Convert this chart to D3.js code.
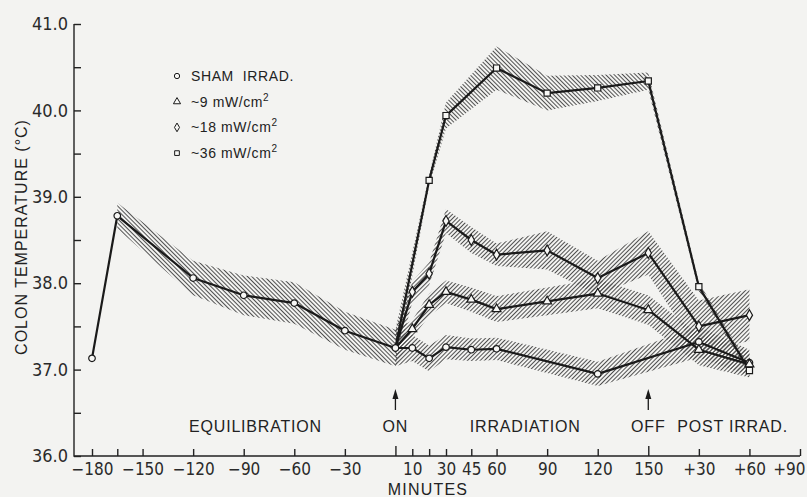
<!DOCTYPE html>
<html>
<head>
<meta charset="utf-8">
<script src="https://cdn.jsdelivr.net/npm/d3@7/dist/d3.min.js"></script>
<style>
    body { margin: 0; background: #f3f3f1; }
    svg { display: block; font-family: "Liberation Sans", Arial, sans-serif; fill: #222; }
    .tick text { font-family: "Liberation Sans Narrow", "DejaVu Sans Condensed", sans-serif; font-size: 17px; fill: #2a2a2a; }
    .tick line, .axis-line { stroke: #222; stroke-width: 1.4; }
</style>
</head>
<body>
<svg width="807" height="497"></svg>
<script>
// equilibration period, shared by all groups
const equilMinutes = [-180, -165, -120, -90, -60, -30, 0];
const equilTemp = [37.13, 38.78, 38.06, 37.86, 37.77, 37.45, 37.25];
const equilSE = [null, 0.15, 0.2, 0.23, 0.24, 0.22, 0.21];

// irradiation + post irradiation (+30 = 180, +60 = 210)
const shamMinutes = [0, 10, 20, 30, 45, 60, 120, 180, 210];
const shamTemp = [37.25, 37.25, 37.13, 37.26, 37.23, 37.24, 36.95, 37.32, 37.08];
const shamSE = [0.21, 0.15, 0.15, 0.14, 0.13, 0.13, 0.14, 0.18, 0.15];

const mw9Minutes = [0, 10, 20, 30, 45, 60, 90, 120, 150, 180, 210];
const mw9Temp = [37.25, 37.47, 37.75, 37.90, 37.81, 37.70, 37.79, 37.88, 37.69, 37.23, 37.06];
const mw9SE = [0.21, 0.1, 0.13, 0.13, 0.14, 0.15, 0.16, 0.17, 0.17, 0.18, 0.15];

const mw18Minutes = [0, 10, 20, 30, 45, 60, 90, 120, 150, 180, 210];
const mw18Temp = [37.25, 37.90, 38.11, 38.72, 38.50, 38.33, 38.38, 38.06, 38.35, 37.50, 37.63];
const mw18SE = [0.21, 0.12, 0.13, 0.14, 0.15, 0.13, 0.22, 0.2, 0.25, 0.3, 0.3];

const mw36Minutes = [0, 20, 30, 60, 90, 120, 150, 180, 210];
const mw36Temp = [37.25, 39.19, 39.94, 40.49, 40.20, 40.26, 40.34, 37.96, 36.99];
const mw36SE = [0.21, 0.06, 0.15, 0.25, 0.2, 0.15, 0.1, 0.05, 0.05];

const xTicks = [-180, -165, -150, -120, -90, -60, -30, 0, 10, 20, 30, 45, 60, 90, 120, 150, 180, 210, 240];
const xTickLabels = ["\u2212180", "", "\u2212150", "\u2212120", "\u221290", "\u221260", "\u221230", "", "10", "", "30", "45", "60", "90", "120", "150", "+30", "+60", "+90"];
const yTicks = [36, 36.5, 37, 37.5, 38, 38.5, 39, 39.5, 40, 40.5, 41];

const legendLabels = ["SHAM  IRRAD.", "~9 mW/cm", "~18 mW/cm", "~36 mW/cm"];
const phaseLabels = ["EQUILIBRATION", "ON", "IRRADIATION", "OFF", "POST IRRAD."];
const phaseMinutes = [-83, 0, 77, 150, 200];
const arrowMinutes = [0, 150];

class ColonChart {
    constructor() {
        this.svg = d3.select("svg");
        this.x = d3.scaleLinear().domain([-180, 240]).range([92, 800]);
        this.y = d3.scaleLinear().domain([36, 41]).range([456, 24]);

        let zip = (ts, vs, ss) => ts.map((t, i) => ({t: t, v: vs[i], se: ss[i]}));
        this.equil = zip(equilMinutes, equilTemp, equilSE);
        this.series = [
            {data: zip(shamMinutes, shamTemp, shamSE), symbol: d3.symbolCircle, size: 34, hatch: "fwd"},
            {data: zip(mw9Minutes, mw9Temp, mw9SE), symbol: d3.symbolTriangle, size: 34, hatch: "fwd"},
            {data: zip(mw18Minutes, mw18Temp, mw18SE), symbol: d3.symbolDiamond, size: 34, hatch: "fwd"},
            {data: zip(mw36Minutes, mw36Temp, mw36SE), symbol: d3.symbolSquare, size: 38, hatch: "back"}
        ];

        this.defs();
        this.drawBands();
        this.drawAxes();
        this.drawLines();
        this.drawLegend();
        this.drawPhases();
    }

    defs() {
        let defs = this.svg.append("defs");
        [["fwd", 45], ["back", -45]].forEach(([id, angle]) => {
            defs.append("pattern")
                .attr("id", "hatch-" + id)
                .attr("patternUnits", "userSpaceOnUse")
                .attr("width", 3).attr("height", 3)
                .attr("patternTransform", "rotate(" + angle + ")")
                .append("line")
                .attr("x1", 0.5).attr("y1", 0).attr("x2", 0.5).attr("y2", 3)
                .style("stroke", "#505050")
                .style("stroke-width", 1);
        });
    }

    drawBands() {
        let area = d3.area()
            .defined(d => d.se != null)
            .x(d => this.x(d.t))
            .y0(d => this.y(d.v - d.se))
            .y1(d => this.y(d.v + d.se));

        let bands = [{data: this.equil, hatch: "back"}].concat(this.series);
        this.svg.append("g")
            .selectAll("path")
            .data(bands)
            .enter().append("path")
            .attr("d", d => area(d.data))
            .style("fill", d => "url(#hatch-" + d.hatch + ")")
            .style("stroke", "none");
    }

    drawAxes() {
        let xAxis = d3.axisBottom(this.x)
            .tickValues(xTicks)
            .tickFormat((d, i) => xTickLabels[i])
            .tickSizeInner(-7)
            .tickSizeOuter(0)
            .tickPadding(7);

        let gx = this.svg.append("g")
            .attr("transform", "translate(0,456)")
            .call(xAxis);
        gx.select(".domain").remove();
        gx.selectAll(".tick line")
            .attr("y2", d => arrowMinutes.includes(d) ? -10 : -7);
        // last label sits right at the page edge
        gx.selectAll(".tick text")
            .filter(d => d === 240)
            .attr("text-anchor", "end")
            .attr("x", 5);

        let yAxis = d3.axisLeft(this.y)
            .tickValues(yTicks)
            .tickFormat(d => Number.isInteger(d) ? d.toFixed(1) : "")
            .tickSizeInner(-7)
            .tickSizeOuter(0)
            .tickPadding(6);

        let gy = this.svg.append("g")
            .attr("transform", "translate(74,0)")
            .call(yAxis);
        gy.select(".domain").remove();
        gy.selectAll(".tick text").style("font-size", "18px");

        this.svg.append("path")
            .attr("class", "axis-line")
            .attr("d", "M74," + this.y(41) + "V456H" + this.x(240))
            .style("fill", "none");

        this.svg.append("text")
            .attr("transform", "translate(27,237) rotate(-90)")
            .attr("text-anchor", "middle")
            .style("font-size", "16px")
            .style("letter-spacing", "1px")
            .text("COLON TEMPERATURE (\u00b0C)");

        this.svg.append("text")
            .attr("x", 428).attr("y", 495)
            .attr("text-anchor", "middle")
            .style("font-size", "16px")
            .style("letter-spacing", "1.2px")
            .text("MINUTES");
    }

    drawLines() {
        let line = d3.line()
            .x(d => this.x(d.t))
            .y(d => this.y(d.v));

        let all = [{data: this.equil}].concat(this.series);
        this.svg.append("g")
            .selectAll("path")
            .data(all)
            .enter().append("path")
            .attr("d", d => line(d.data))
            .style("fill", "none")
            .style("stroke", "#1a1a1a")
            .style("stroke-width", 2.2)
            .style("stroke-linejoin", "round");

        let marks = this.svg.append("g");
        marks.selectAll("path.eq")
            .data(this.equil)
            .enter().append("path")
            .attr("class", "eq")
            .attr("transform", d => "translate(" + this.x(d.t) + "," + this.y(d.v) + ")")
            .attr("d", d3.symbol(d3.symbolCircle, 34));

        this.series.forEach(s => {
            marks.selectAll(null)
                .data(s.data.filter(d => d.t !== 0))
                .enter().append("path")
                .attr("transform", d => "translate(" + this.x(d.t) + "," + this.y(d.v) + ")")
                .attr("d", d3.symbol(s.symbol, s.size));
        });
        marks.selectAll("path")
            .style("fill", "#f7f7f5")
            .style("stroke", "#1a1a1a")
            .style("stroke-width", 1.2);
    }

    drawLegend() {
        let g = this.svg.append("g").attr("transform", "translate(177,76)");
        let rows = g.selectAll("g")
            .data(legendLabels)
            .enter().append("g")
            .attr("transform", (d, i) => "translate(0," + (i * 25.7) + ")");

        rows.append("path")
            .attr("d", (d, i) => d3.symbol(this.series[i].symbol, 22)())
            .style("fill", "#f7f7f5")
            .style("stroke", "#1a1a1a")
            .style("stroke-width", 1);

        let txt = rows.append("text")
            .attr("x", 14).attr("y", 5)
            .style("font-size", "14px")
            .style("letter-spacing", "0.6px")
            .style("white-space", "pre")
            .text(d => d);
        txt.filter((d, i) => i > 0)
            .append("tspan")
            .attr("dy", -6)
            .style("font-size", "10px")
            .text("2");
    }

    drawPhases() {
        this.svg.append("g")
            .selectAll("text")
            .data(phaseLabels)
            .enter().append("text")
            .attr("x", (d, i) => this.x(phaseMinutes[i]))
            .attr("y", 432)
            .attr("text-anchor", "middle")
            .style("font-size", "16px")
            .style("letter-spacing", "0.8px")
            .text(d => d);

        let arrows = this.svg.append("g")
            .selectAll("g")
            .data(arrowMinutes)
            .enter().append("g")
            .attr("transform", d => "translate(" + this.x(d) + ",0)");
        arrows.append("path")
            .attr("d", "M0,389L-3,399L3,399Z")
            .style("fill", "#1a1a1a");
        arrows.append("line")
            .attr("y1", 398).attr("y2", 410)
            .style("stroke", "#1a1a1a")
            .style("stroke-width", 1.3);
    }
}

new ColonChart();
</script>
</body>
</html>
